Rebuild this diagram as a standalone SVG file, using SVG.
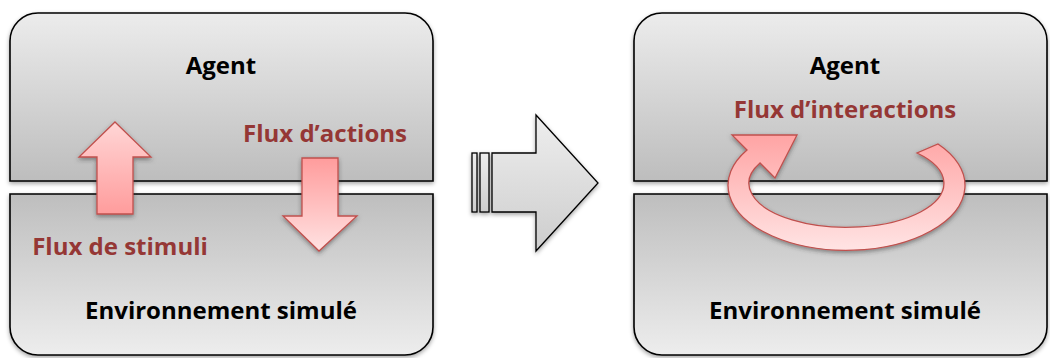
<svg xmlns="http://www.w3.org/2000/svg" width="1050" height="358" viewBox="0 0 1050 358">
<style>
.box{stroke:#000;stroke-width:1.6}
.lbl{font-family:"Open Sans","Liberation Sans",sans-serif;font-weight:700;font-size:24px;text-anchor:middle}
.blk{fill:#000}
.red{fill:#953735}
.flow{stroke:#c0504d;stroke-width:1.3;stroke-linejoin:miter}
</style>
<defs>
<linearGradient id="gTop" x1="0" y1="0" x2="0" y2="1">
<stop offset="0" stop-color="#ececec"/><stop offset="1" stop-color="#bdbdbd"/>
</linearGradient>
<linearGradient id="gBot" x1="0" y1="0" x2="0" y2="1">
<stop offset="0" stop-color="#bebebe"/><stop offset="1" stop-color="#ededed"/>
</linearGradient>
<linearGradient id="gMid" x1="0" y1="0" x2="0" y2="1">
<stop offset="0" stop-color="#eeeeee"/><stop offset="1" stop-color="#cdcdcd"/>
</linearGradient>
<linearGradient id="gUp" x1="0" y1="0" x2="0" y2="1">
<stop offset="0" stop-color="#ffd6d6"/><stop offset="1" stop-color="#ff9c9c"/>
</linearGradient>
<linearGradient id="gDown" x1="0" y1="0" x2="0" y2="1">
<stop offset="0" stop-color="#ff9c9c"/><stop offset="1" stop-color="#ffe2e2"/>
</linearGradient>
<linearGradient id="gRing" x1="0" y1="0" x2="0" y2="1">
<stop offset="0" stop-color="#ffa4a4"/><stop offset="1" stop-color="#ffe4e4"/>
</linearGradient>
<filter id="sh" x="-20%" y="-20%" width="140%" height="150%">
<feDropShadow dx="0" dy="2" stdDeviation="2.2" flood-color="#000" flood-opacity="0.35"/>
</filter>
<filter id="shA" x="-30%" y="-30%" width="160%" height="160%">
<feDropShadow dx="0" dy="2" stdDeviation="2" flood-color="#333" flood-opacity="0.5"/>
</filter>
</defs>

<g id="left-agent">
<path class="box" fill="url(#gTop)" filter="url(#sh)" d="M10,181 V41 A28,28 0 0 1 38,13 H405 A28,28 0 0 1 433,41 V181 Z"/>
<text class="lbl blk" x="221" y="74">Agent</text>
</g>
<g id="left-env">
<path class="box" fill="url(#gBot)" filter="url(#sh)" d="M10,194 H433 V327 A28,28 0 0 1 405,355 H38 A28,28 0 0 1 10,327 Z"/>
<text class="lbl blk" x="221" y="319">Environnement simulé</text>
</g>

<g id="transition">
<g filter="url(#sh)" fill="url(#gMid)" stroke="#000" stroke-width="1.3">
<rect x="472" y="153" width="5" height="59"/>
<rect x="480" y="153" width="9" height="59"/>
<path d="M492,153 H536 V115 L598,183 L536,251 V212 H492 Z"/>
</g>
</g>

<g id="right-agent">
<path class="box" fill="url(#gTop)" filter="url(#sh)" d="M634,181 V41 A28,28 0 0 1 662,13 H1019 A28,28 0 0 1 1047,41 V181 Z"/>
<text class="lbl blk" x="845" y="74">Agent</text>
</g>
<g id="right-env">
<path class="box" fill="url(#gBot)" filter="url(#sh)" d="M634,194 H1047 V327 A28,28 0 0 1 1019,355 H662 A28,28 0 0 1 634,327 Z"/>
<text class="lbl blk" x="845" y="319">Environnement simulé</text>
</g>

<g id="connectors">
<g id="stimuli-flow">
<path class="flow" fill="url(#gUp)" filter="url(#shA)" d="M115,122 L151,157 H133 V214 H97 V157 H79 Z"/>
<text class="lbl red" x="120" y="255">Flux de stimuli</text>
</g>
<g id="actions-flow">
<path class="flow" fill="url(#gDown)" filter="url(#shA)" d="M302,158 H338 V216 H357 L319,251 L283,216 H302 Z"/>
<text class="lbl red" x="325" y="142">Flux d’actions</text>
</g>
<g id="interactions-flow">
<path class="flow" fill="url(#gRing)" filter="url(#shA)" d="M938,144 A118.5,65 0 1 1 747,150 L732,135 L797,135 L775,178 L760,163 A97.5,44 0 1 0 917,153 Z"/>
<text class="lbl red" x="845" y="118">Flux d’interactions</text>
</g>
</g>
</svg>
